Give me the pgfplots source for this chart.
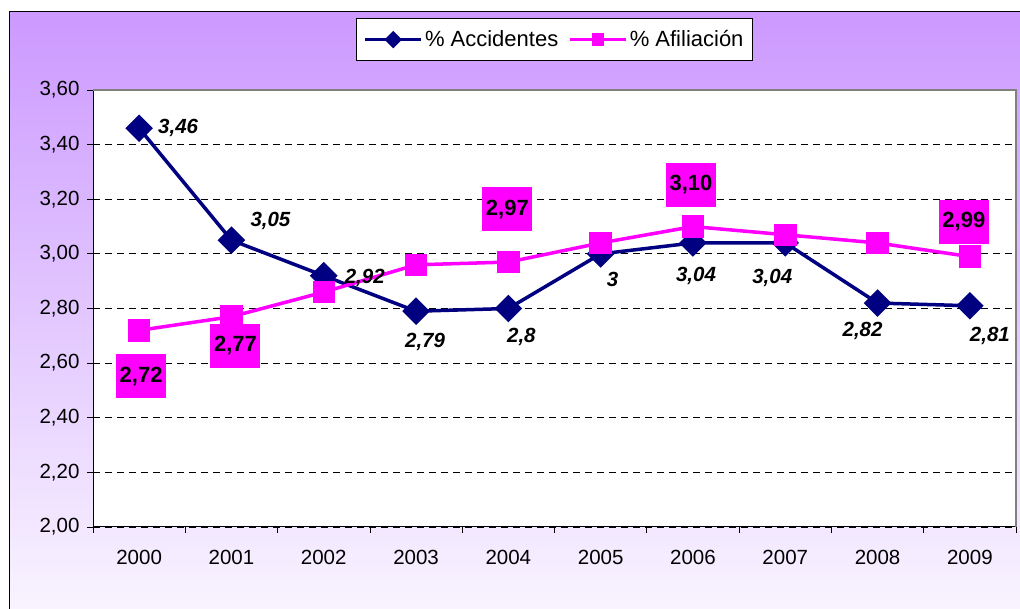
\documentclass[border=0pt]{standalone}
\usepackage{pgfplots}
\pgfplotsset{compat=1.18}
\usepackage{fontspec}
\setmainfont{Liberation Sans}
\definecolor{acc}{RGB}{0,0,128}
\definecolor{afi}{RGB}{255,0,255}
\definecolor{bgtop}{RGB}{204,153,255}
\definecolor{bgbot}{RGB}{250,247,255}
\newcommand{\lblfont}{\fontsize{20.5}{24}\selectfont\bfseries\itshape}
\newcommand{\boxfont}{\fontsize{22}{26}\selectfont\bfseries}
\begin{document}
\begin{tikzpicture}
\useasboundingbox (0,0) rectangle (1020pt,608pt);
\clip (0,0) rectangle (1020pt,608pt);
\fill[white] (0,0) rectangle (1020pt,608pt);
\shade[top color=bgtop, bottom color=bgbot, draw=black, line width=1pt]
  (9pt,596pt) rectangle (1040pt,-20pt);
\begin{axis}[
  at={(93pt,81pt)}, anchor=south west,
  scale only axis, width=923pt, height=437pt,
  xmin=-0.5, xmax=9.5, ymin=2, ymax=3.6,
  axis background/.style={fill=white},
  axis x line*=bottom, axis y line*=left,
  axis line style={-, black, line width=1pt},
  tick align=outside,
  xtick={0,...,9},
  xticklabels={2000,2001,2002,2003,2004,2005,2006,2007,2008,2009},
  major x tick style={draw=none},
  minor xtick={-0.5,0.5,...,9.5},
  minor tick length=6pt,
  ytick={2,2.2,...,3.6},
  major tick length=6pt,
  tick style={black, line width=0.8pt},
  ymajorgrids,
  grid style={black, line width=0.9pt, dash pattern=on 7pt off 5pt},
  /pgf/number format/assume math mode=true,
  yticklabel={\pgfmathprintnumber[fixed, fixed zerofill, precision=2, use comma]{\tick}},
  tick label style={font=\fontsize{20.5}{24}\selectfont},
  xticklabel style={yshift=-14pt},
  yticklabel style={xshift=-4pt},
  legend style={at={(0.5,1)}, anchor=south, yshift=29pt, draw=black,
    line width=1pt, fill=white, font=\fontsize{22}{26}\selectfont,
    inner xsep=7pt, inner ysep=10pt,
    /tikz/every even column/.append style={column sep=8pt}},
  legend columns=-1,
  legend image code/.code={\draw[mark repeat=2, mark phase=2, #1, mark size=4.5pt]
    plot coordinates {(0pt,0pt) (28pt,0pt) (56pt,0pt)};},
  clip=false,
]
\addplot[acc, line width=3.5pt, mark=square*, mark size=8pt,
  mark options={rotate=45, solid}]
  coordinates {(0,3.46)(1,3.05)(2,2.92)(3,2.79)(4,2.80)(5,3.00)(6,3.04)(7,3.04)(8,2.82)(9,2.81)};
\addlegendentry{\% Accidentes}
\addplot[afi, line width=3.5pt, mark=square*, mark size=9.5pt, mark options={solid}]
  coordinates {(0,2.72)(1,2.77)(2,2.86)(3,2.96)(4,2.97)(5,3.04)(6,3.10)(7,3.07)(8,3.04)(9,2.99)};
\addlegendentry{\% Afiliación}
\draw[gray, line width=1.2pt] (rel axis cs:0,1) -- (rel axis cs:1,1) -- (rel axis cs:1,0);
% data labels, Accidentes
\node[font=\lblfont] at (axis cs:0,3.46) [xshift=39pt, yshift=0pt] {3,46};
\node[font=\lblfont] at (axis cs:1,3.05) [xshift=39pt, yshift=19pt] {3,05};
\node[font=\lblfont] at (axis cs:2,2.92) [xshift=41pt, yshift=-2pt] {2,92};
\node[font=\lblfont] at (axis cs:3,2.79) [xshift=9pt, yshift=-31pt] {2,79};
\node[font=\lblfont] at (axis cs:4,2.80) [xshift=13pt, yshift=-28pt] {2,8};
\node[font=\lblfont] at (axis cs:5,3.00) [xshift=12pt, yshift=-26pt] {3};
\node[font=\lblfont] at (axis cs:6,3.04) [xshift=3pt, yshift=-33pt] {3,04};
\node[font=\lblfont] at (axis cs:7,3.04) [xshift=-13pt, yshift=-35pt] {3,04};
\node[font=\lblfont] at (axis cs:8,2.82) [xshift=-15pt, yshift=-28pt] {2,82};
\node[font=\lblfont] at (axis cs:9,2.81) [xshift=20pt, yshift=-30pt] {2,81};
% data labels, Afiliacion
\tikzset{afibox/.style={fill=afi, minimum width=50pt, minimum height=44pt, inner sep=0pt, font=\boxfont}}
\node[afibox] at (axis cs:0,2.72) [xshift=2pt, yshift=-46pt] {2,72};
\node[afibox] at (axis cs:1,2.77) [xshift=4pt, yshift=-29pt] {2,77};
\node[afibox] at (axis cs:4,2.97) [xshift=-1pt, yshift=53pt] {2,97};
\node[afibox] at (axis cs:6,3.10) [xshift=-2pt, yshift=42pt] {3,10};
\node[afibox] at (axis cs:9,2.99) [xshift=-6pt, yshift=35pt] {2,99};
\end{axis}
\end{tikzpicture}
\end{document}
